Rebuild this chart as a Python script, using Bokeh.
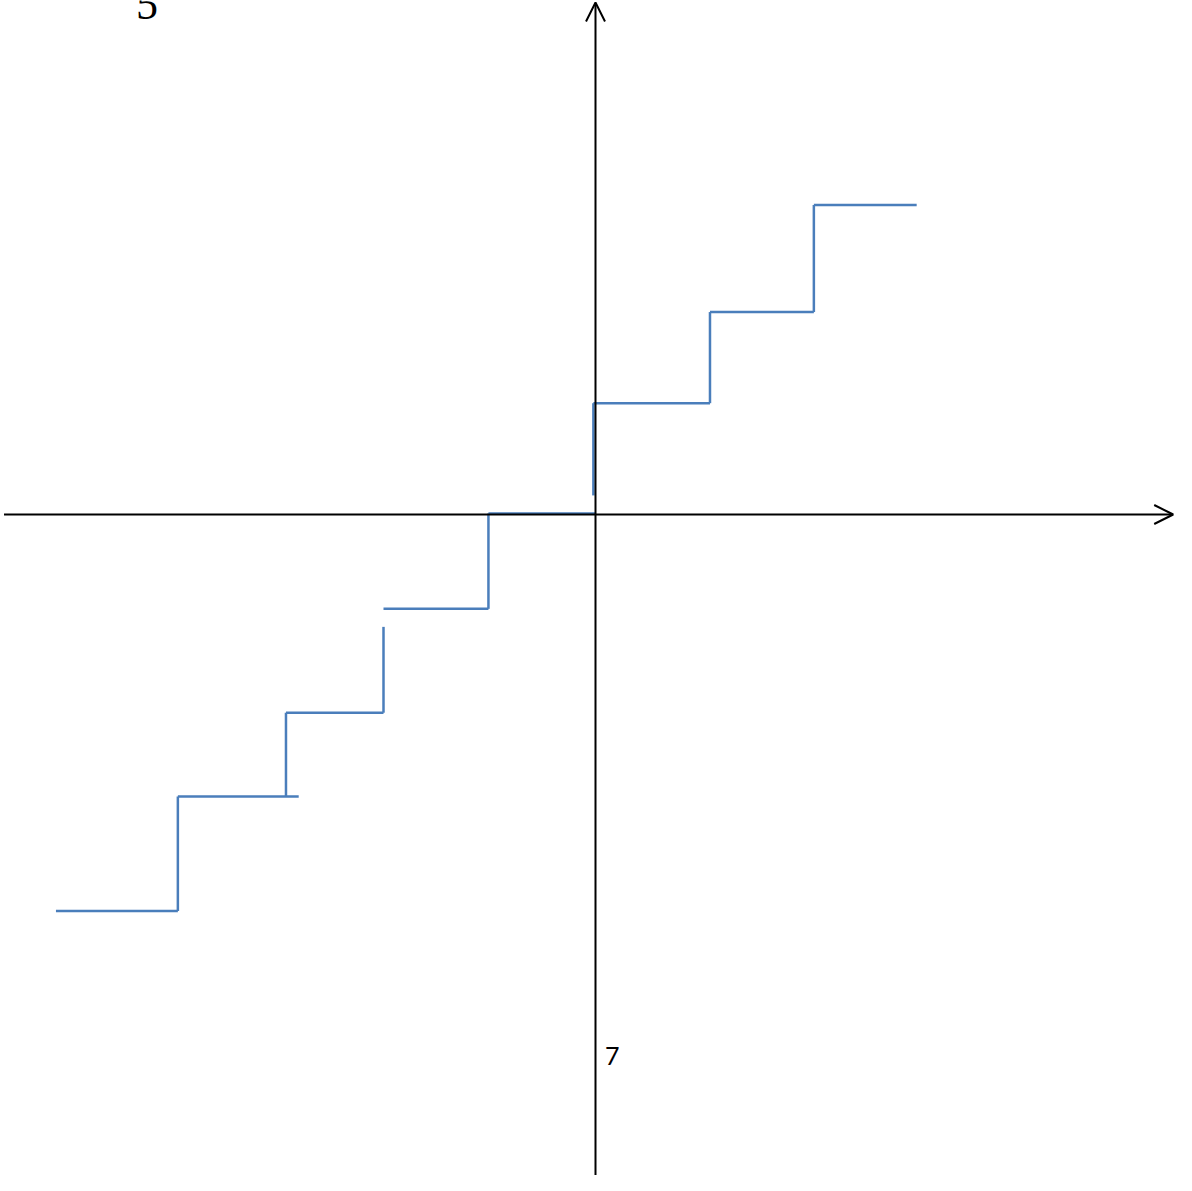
from bokeh.plotting import figure
from bokeh.models import Range1d, Arrow, OpenHead
from bokeh.core.properties import value
from bokeh.embed import file_html
from bokeh.resources import INLINE

# Step function: horizontal treads (x start, x end, level)
tread_x0 = [-5.09, -3.94, -2.92, -2.00, -1.01, -0.02, 1.08, 2.06]
tread_x1 = [-3.94, -2.80, -2.00, -1.01, 0.00, 1.08, 2.06, 3.03]
tread_y = [-3.74, -2.66, -1.87, -0.89, 0.01, 1.05, 1.91, 2.92]

# Risers (x, bottom, top)
riser_x = [-3.94, -2.92, -2.00, -1.01, -0.02, 1.08, 2.06]
riser_y0 = [-3.74, -2.66, -1.87, -0.89, 0.18, 1.05, 1.91]
riser_y1 = [-2.66, -1.87, -1.06, 0.01, 1.05, 1.91, 2.92]

# Axes extents
x_axis = (-5.58, 5.45)
y_axis = (-6.37, 4.83)

# Labels
label_text = ["5", "7"]
label_x = [-4.23, 0.09]
label_y = [4.81, -5.11]

W, H = 1176, 1175
p = figure(width=W, height=H, output_backend="svg", toolbar_location=None,
           x_range=Range1d(-5.6132, 5.4811), y_range=Range1d(-6.2358, 4.8491),
           min_border=0, outline_line_color=None)
p.axis.visible = False
p.grid.visible = False
p.background_fill_color = "white"
p.border_fill_color = "white"

# axes with open arrowheads
p.add_layout(Arrow(end=OpenHead(size=19, line_width=2, line_color="black"),
                   x_start=x_axis[0], y_start=0, x_end=x_axis[1], y_end=0,
                   line_width=2, line_color="black"))
p.add_layout(Arrow(end=OpenHead(size=19, line_width=2, line_color="black"),
                   x_start=0, y_start=y_axis[0], x_end=0, y_end=y_axis[1],
                   line_width=2, line_color="black"))

blue = "#4A7EBB"
p.segment(x0=tread_x0, y0=tread_y, x1=tread_x1, y1=tread_y, line_color=blue, line_width=2.5)
p.segment(x0=riser_x, y0=riser_y0, x1=riser_x, y1=riser_y1, line_color=blue, line_width=2.5)

p.text(x=[label_x[0]], y=[label_y[0]], text=[label_text[0]],
       text_font=value("Liberation Serif"), text_font_size="44px",
       text_align="center", text_baseline="alphabetic", text_color="black")
p.text(x=[label_x[1]], y=[label_y[1]], text=[label_text[1]],
       text_font=value("Lato"), text_font_size="25px",
       text_align="left", text_baseline="alphabetic", text_color="black")

open("out.html", "w").write(file_html(p, INLINE))
